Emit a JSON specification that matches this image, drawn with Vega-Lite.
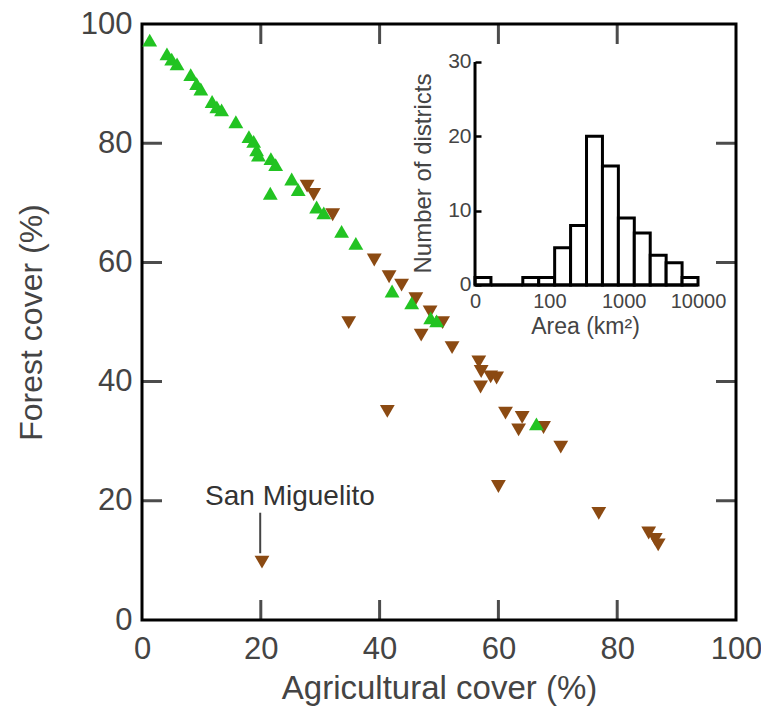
{
  "$schema": "https://vega.github.io/schema/vega-lite/v6.json",
  "width": 594,
  "height": 596,
  "autosize": "none",
  "padding": {"left": 142, "top": 24, "right": 25, "bottom": 89},
  "background": "white",
  "config": {
    "view": {"stroke": "black", "strokeWidth": 3},
    "font": "Liberation Sans",
    "axis": {"grid": false, "domain": false, "labelFont": "Liberation Sans", "titleFont": "Liberation Sans", "titleFontWeight": "normal", "labelColor": "#444", "titleColor": "#444"}
  },
  "datasets": {
    "points": [
      {"agri": 27.8, "forest": 72.8, "type": "A"},
      {"agri": 28.9, "forest": 71.4, "type": "A"},
      {"agri": 32.1, "forest": 68.0, "type": "A"},
      {"agri": 39.1, "forest": 60.4, "type": "A"},
      {"agri": 41.6, "forest": 57.6, "type": "A"},
      {"agri": 43.7, "forest": 56.2, "type": "A"},
      {"agri": 46.1, "forest": 53.9, "type": "A"},
      {"agri": 48.5, "forest": 51.7, "type": "A"},
      {"agri": 50.6, "forest": 49.9, "type": "A"},
      {"agri": 47.0, "forest": 47.8, "type": "A"},
      {"agri": 34.8, "forest": 49.9, "type": "A"},
      {"agri": 52.2, "forest": 45.7, "type": "A"},
      {"agri": 56.7, "forest": 43.3, "type": "A"},
      {"agri": 57.1, "forest": 41.7, "type": "A"},
      {"agri": 58.7, "forest": 40.8, "type": "A"},
      {"agri": 59.7, "forest": 40.6, "type": "A"},
      {"agri": 57.0, "forest": 39.1, "type": "A"},
      {"agri": 61.2, "forest": 34.7, "type": "A"},
      {"agri": 64.0, "forest": 34.0, "type": "A"},
      {"agri": 63.4, "forest": 31.9, "type": "A"},
      {"agri": 67.6, "forest": 32.3, "type": "A"},
      {"agri": 70.5, "forest": 29.0, "type": "A"},
      {"agri": 60.0, "forest": 22.4, "type": "A"},
      {"agri": 76.9, "forest": 17.9, "type": "A"},
      {"agri": 85.3, "forest": 14.6, "type": "A"},
      {"agri": 86.4, "forest": 13.5, "type": "A"},
      {"agri": 86.9, "forest": 12.6, "type": "A"},
      {"agri": 41.3, "forest": 35.0, "type": "A"},
      {"agri": 20.2, "forest": 9.7, "type": "A"},
      {"agri": 1.3, "forest": 97.3, "type": "F"},
      {"agri": 4.2, "forest": 95.0, "type": "F"},
      {"agri": 5.0, "forest": 94.1, "type": "F"},
      {"agri": 5.9, "forest": 93.3, "type": "F"},
      {"agri": 8.2, "forest": 91.5, "type": "F"},
      {"agri": 9.2, "forest": 90.0, "type": "F"},
      {"agri": 9.9, "forest": 89.1, "type": "F"},
      {"agri": 11.8, "forest": 87.0, "type": "F"},
      {"agri": 12.6, "forest": 86.1, "type": "F"},
      {"agri": 13.4, "forest": 85.6, "type": "F"},
      {"agri": 15.8, "forest": 83.6, "type": "F"},
      {"agri": 18.0, "forest": 81.1, "type": "F"},
      {"agri": 18.8, "forest": 80.3, "type": "F"},
      {"agri": 19.3, "forest": 78.9, "type": "F"},
      {"agri": 19.6, "forest": 78.0, "type": "F"},
      {"agri": 21.7, "forest": 77.4, "type": "F"},
      {"agri": 22.5, "forest": 76.4, "type": "F"},
      {"agri": 21.6, "forest": 71.6, "type": "F"},
      {"agri": 25.2, "forest": 74.0, "type": "F"},
      {"agri": 26.3, "forest": 72.2, "type": "F"},
      {"agri": 29.4, "forest": 69.3, "type": "F"},
      {"agri": 30.6, "forest": 68.3, "type": "F"},
      {"agri": 33.6, "forest": 65.2, "type": "F"},
      {"agri": 36.0, "forest": 63.2, "type": "F"},
      {"agri": 42.1, "forest": 55.2, "type": "F"},
      {"agri": 45.4, "forest": 53.2, "type": "F"},
      {"agri": 48.6, "forest": 50.7, "type": "F"},
      {"agri": 49.6, "forest": 50.2, "type": "F"},
      {"agri": 66.4, "forest": 32.9, "type": "F"}
    ],
    "ticks": [{"t": 20}, {"t": 40}, {"t": 60}, {"t": 80}],
    "note": [{"label": "San Miguelito", "x": 24.9, "y": 20.6}],
    "arrow": [{"x": 19.9, "y": 18.0, "y2": 11.2}],
    "hist": [
      {"lo": 1.0000, "hi": 1.2143, "count": 1},
      {"lo": 1.2143, "hi": 1.4286, "count": 0},
      {"lo": 1.4286, "hi": 1.6429, "count": 0},
      {"lo": 1.6429, "hi": 1.8571, "count": 1},
      {"lo": 1.8571, "hi": 2.0714, "count": 1},
      {"lo": 2.0714, "hi": 2.2857, "count": 5},
      {"lo": 2.2857, "hi": 2.5000, "count": 8},
      {"lo": 2.5000, "hi": 2.7143, "count": 20},
      {"lo": 2.7143, "hi": 2.9286, "count": 16},
      {"lo": 2.9286, "hi": 3.1429, "count": 9},
      {"lo": 3.1429, "hi": 3.3571, "count": 7},
      {"lo": 3.3571, "hi": 3.5714, "count": 4},
      {"lo": 3.5714, "hi": 3.7857, "count": 3},
      {"lo": 3.7857, "hi": 4.0000, "count": 1}
    ],
    "insetAxes": [
      {"x": 1, "x2": 1, "y": 0, "y2": 30},
      {"x": 1, "x2": 4, "y": 0, "y2": 0}
    ]
  },
  "layer": [
    {
      "layer": [
        {
          "data": {"name": "ticks"},
          "mark": {"type": "tick", "orient": "vertical", "size": 40, "thickness": 3, "color": "black", "clip": true},
          "encoding": {
            "x": {"field": "t", "type": "quantitative", "scale": {"domain": [0, 100], "nice": false, "zero": false}},
            "y": {"datum": 0, "type": "quantitative", "scale": {"domain": [0, 100], "nice": false, "zero": false}}
          }
        },
        {
          "data": {"name": "ticks"},
          "mark": {"type": "tick", "orient": "vertical", "size": 40, "thickness": 3, "color": "black", "clip": true},
          "encoding": {
            "x": {"field": "t", "type": "quantitative", "scale": {"domain": [0, 100], "nice": false, "zero": false}},
            "y": {"datum": 100, "type": "quantitative", "scale": {"domain": [0, 100], "nice": false, "zero": false}}
          }
        },
        {
          "data": {"name": "ticks"},
          "mark": {"type": "tick", "orient": "horizontal", "size": 40, "thickness": 3, "color": "black", "clip": true},
          "encoding": {
            "y": {"field": "t", "type": "quantitative", "scale": {"domain": [0, 100], "nice": false, "zero": false}},
            "x": {"datum": 0, "type": "quantitative", "scale": {"domain": [0, 100], "nice": false, "zero": false}}
          }
        },
        {
          "data": {"name": "ticks"},
          "mark": {"type": "tick", "orient": "horizontal", "size": 40, "thickness": 3, "color": "black", "clip": true},
          "encoding": {
            "y": {"field": "t", "type": "quantitative", "scale": {"domain": [0, 100], "nice": false, "zero": false}},
            "x": {"datum": 100, "type": "quantitative", "scale": {"domain": [0, 100], "nice": false, "zero": false}}
          }
        },
        {
          "data": {"name": "points"},
          "mark": {"type": "point", "filled": true, "opacity": 1, "size": 220, "strokeWidth": 0},
          "encoding": {
            "x": {"field": "agri", "type": "quantitative", "scale": {"domain": [0, 100], "nice": false, "zero": false},
              "axis": {"orient": "bottom", "values": [0, 20, 40, 60, 80, 100], "ticks": false, "domain": false, "grid": false, "labelFontSize": 31, "labelPadding": 14, "labelFlush": false, "labelOverlap": false, "title": "Agricultural cover (%)", "titleFontSize": 33, "titlePadding": 8}},
            "y": {"field": "forest", "type": "quantitative", "scale": {"domain": [0, 100], "nice": false, "zero": false},
              "axis": {"orient": "left", "values": [0, 20, 40, 60, 80, 100], "ticks": false, "domain": false, "grid": false, "labelFontSize": 31, "labelPadding": 10, "labelFlush": false, "labelOverlap": false, "title": "Forest cover (%)", "titleFontSize": 32, "titlePadding": 32}},
            "shape": {"field": "type", "type": "nominal", "scale": {"domain": ["A", "F"], "range": ["triangle-down", "triangle-up"]}, "legend": null},
            "color": {"field": "type", "type": "nominal", "scale": {"domain": ["A", "F"], "range": ["#8b4a12", "#22c322"]}, "legend": null}
          }
        },
        {
          "data": {"name": "arrow"},
          "mark": {"type": "rule", "strokeWidth": 2, "color": "#444"},
          "encoding": {
            "x": {"field": "x", "type": "quantitative", "scale": {"domain": [0, 100], "nice": false, "zero": false}},
            "y": {"field": "y", "type": "quantitative", "scale": {"domain": [0, 100], "nice": false, "zero": false}},
            "y2": {"field": "y2"}
          }
        },
        {
          "data": {"name": "note"},
          "mark": {"type": "text", "fontSize": 28, "color": "#333", "align": "center", "baseline": "middle", "font": "Liberation Sans"},
          "encoding": {
            "x": {"field": "x", "type": "quantitative", "scale": {"domain": [0, 100], "nice": false, "zero": false}},
            "y": {"field": "y", "type": "quantitative", "scale": {"domain": [0, 100], "nice": false, "zero": false}},
            "text": {"field": "label"}
          }
        }
      ]
    },
    {
      "layer": [
        {
          "data": {"name": "hist"},
          "mark": {"type": "rect", "fill": "white", "stroke": "black", "strokeWidth": 3},
          "encoding": {
            "x": {"field": "lo", "type": "quantitative", "scale": {"domain": [-3.480, 4.511], "nice": false, "zero": false},
              "axis": {"orient": "bottom", "offset": -335, "values": [1, 2, 3, 4], "labelExpr": "datum.value == 1 ? '0' : datum.value == 2 ? '100' : datum.value == 3 ? '1000' : '10000'", "ticks": false, "domain": false, "grid": false, "labelFontSize": 20, "labelPadding": 6, "labelFlush": false, "labelOverlap": false, "title": "Area (km²)", "titleFontSize": 23, "titleX": 443, "titleY": 41, "titleBaseline": "middle", "titleAlign": "center"}},
            "x2": {"field": "hi"},
            "y": {"field": "count", "type": "quantitative", "scale": {"domain": [-45.07, 35.11], "nice": false, "zero": false},
              "axis": {"orient": "left", "offset": -333, "values": [0, 10, 20, 30], "ticks": true, "tickSize": -6, "tickWidth": 2.5, "tickColor": "black", "domain": false, "grid": false, "labelFontSize": 21, "labelPadding": 10, "labelFlush": false, "labelOverlap": false, "title": "Number of districts", "titleFontSize": 24, "titleX": -52, "titleY": 149, "titleBaseline": "middle", "titleAngle": -90, "titleAlign": "center"}},
            "y2": {"datum": 0}
          }
        },
        {
          "data": {"name": "insetAxes"},
          "mark": {"type": "rule", "strokeWidth": 3, "color": "black"},
          "encoding": {
            "x": {"field": "x", "type": "quantitative", "scale": {"domain": [-3.480, 4.511], "nice": false, "zero": false}},
            "x2": {"field": "x2"},
            "y": {"field": "y", "type": "quantitative", "scale": {"domain": [-45.07, 35.11], "nice": false, "zero": false}},
            "y2": {"field": "y2"}
          }
        }
      ]
    }
  ],
  "resolve": {"scale": {"x": "independent", "y": "independent"}, "axis": {"x": "independent", "y": "independent"}}
}
